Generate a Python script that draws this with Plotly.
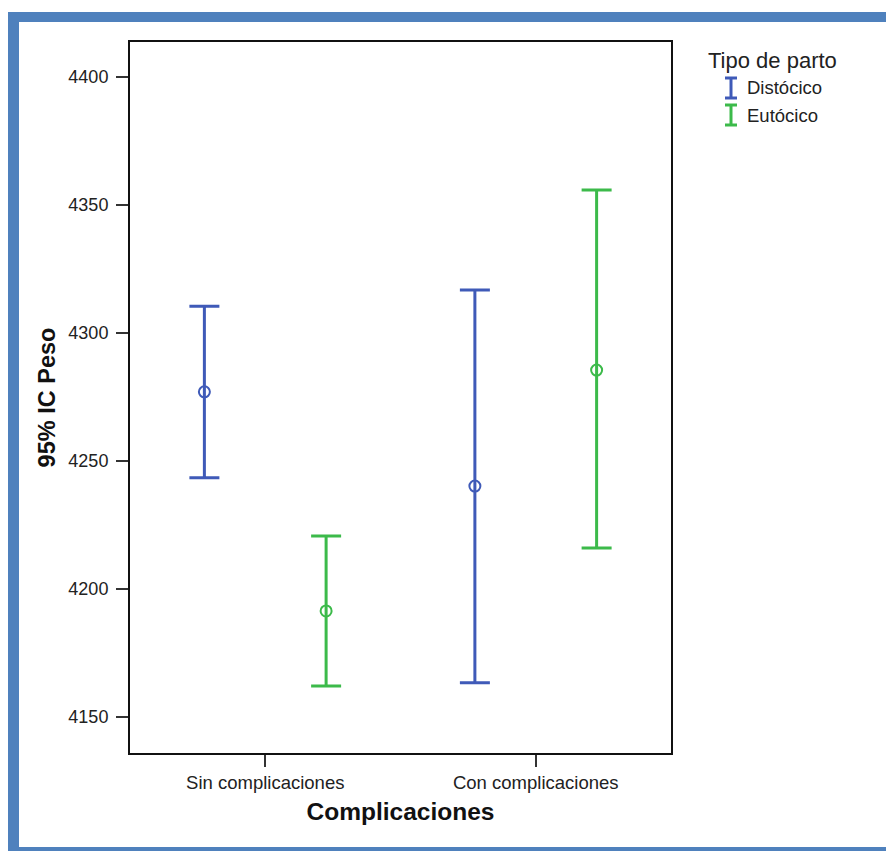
import plotly.graph_objects as go

# ---- data ----
categories = ["Sin complicaciones", "Con complicaciones"]
series_names = ["Distócico", "Eutócico"]
dist_mean = [4277.0, 4240.2]
dist_upper = [4310.5, 4316.8]
dist_lower = [4243.4, 4163.3]
euto_mean = [4191.4, 4285.5]
euto_upper = [4220.7, 4355.9]
euto_lower = [4162.1, 4216.0]
y_ticks = [4150, 4200, 4250, 4300, 4350, 4400]

BLUE = "#3F5AB8"
GREEN = "#3CBA4A"
FONT = "Liberation Sans, Arial, sans-serif"

W, H = 886, 851
L, R, T, B = 130, 671, 42, 753  # plot box in px


def px_x(x):
    return (x - L) / (R - L)


def px_y(y):
    return (B - y) / (B - T)


fig = go.Figure()
for name, mean, up, lo, col in [
    (series_names[0], dist_mean, dist_upper, dist_lower, BLUE),
    (series_names[1], euto_mean, euto_upper, euto_lower, GREEN),
]:
    fig.add_trace(go.Scatter(
        x=categories, y=mean, name=name, mode="markers",
        offsetgroup=name,
        marker=dict(symbol="circle-open", size=11, color=col, line=dict(width=2, color=col)),
        error_y=dict(type="data", symmetric=False,
                     array=[u - m for u, m in zip(up, mean)],
                     arrayminus=[m - l for m, l in zip(mean, lo)],
                     color=col, thickness=3, width=15),
        showlegend=False,
    ))

shapes = []
# blue frame around the picture
BORDER = "#4F81BD"
for x0, y0, x1, y1 in [(8, 12, 19, 860), (8, 12, 900, 22), (8, 847, 900, 860)]:
    shapes.append(dict(type="rect", xref="paper", yref="paper",
                       x0=px_x(x0), x1=px_x(x1), y0=px_y(y1), y1=px_y(y0),
                       fillcolor=BORDER, line=dict(width=0), layer="above"))

# legend I-symbols
annotations = []
for (ytop, ybot, col, name, ytxt) in [(77, 99, BLUE, series_names[0], 88),
                                      (104, 126, GREEN, series_names[1], 115)]:
    xc = 731
    for (xa, ya, xb, yb) in [(xc, ytop, xc, ybot), (xc - 6, ytop + 1, xc + 6, ytop + 1),
                             (xc - 6, ybot - 1, xc + 6, ybot - 1)]:
        shapes.append(dict(type="line", xref="paper", yref="paper",
                           x0=px_x(xa), y0=px_y(ya), x1=px_x(xb), y1=px_y(yb),
                           line=dict(color=col, width=3)))
    annotations.append(dict(text=name, xref="paper", yref="paper",
                            x=px_x(745), y=px_y(ytxt), xanchor="left", yanchor="middle",
                            showarrow=False, font=dict(family=FONT, size=18.5, color="#222")))
annotations.append(dict(text="Tipo de parto", xref="paper", yref="paper",
                        x=px_x(706), y=px_y(60), xanchor="left", yanchor="middle",
                        showarrow=False, font=dict(family=FONT, size=22, color="#222")))

fig.update_layout(
    width=W, height=H,
    margin=dict(l=L, r=W - R, t=T, b=H - B, pad=0),
    paper_bgcolor="white", plot_bgcolor="white",
    scattermode="group", scattergap=0.1,
    shapes=shapes, annotations=annotations,
    font=dict(family=FONT, color="#222"),
    showlegend=False,
)
fig.update_xaxes(
    type="category", categoryorder="array", categoryarray=categories,
    range=[-0.5, 1.5],
    showline=True, linecolor="#111", linewidth=2, mirror=True,
    ticks="outside", ticklen=12, tickwidth=2, tickcolor="#333",
    showgrid=False, zeroline=False,
    tickfont=dict(family=FONT, size=18.5, color="#222"),
    title=dict(text="<b>Complicaciones</b>", font=dict(family=FONT, size=24.5, color="#111"), standoff=11),
)
fig.update_yaxes(
    range=[4135.9, 4413.7], tickvals=y_ticks, ticktext=[str(v) for v in y_ticks],
    showline=True, linecolor="#111", linewidth=2, mirror=True,
    ticks="outside", ticklen=12, tickwidth=2, tickcolor="#333",
    showgrid=False, zeroline=False,
    tickfont=dict(family=FONT, size=18, color="#222"),
    ticklabelstandoff=4,
    title=dict(text="<b>95% IC Peso</b>", font=dict(family=FONT, size=23.5, color="#111"), standoff=6),
)

fig.write_html("out.html", config={"displayModeBar": False},
               post_script="document.body.style.margin='0';")
